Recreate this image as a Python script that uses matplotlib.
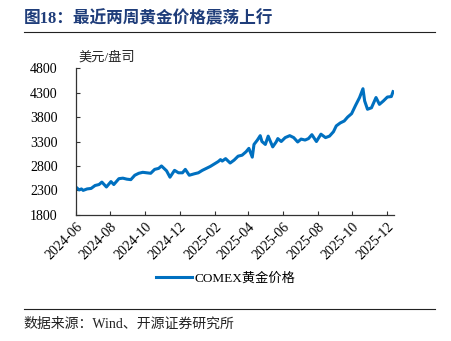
import numpy as np
import pandas as pd
import matplotlib
matplotlib.use('Agg')
import matplotlib.pyplot as plt
from matplotlib.lines import Line2D

plt.rcParams['font.family'] = ['Liberation Serif', 'Noto Sans CJK SC']
plt.rcParams['axes.unicode_minus'] = False

# COMEX gold price (USD/oz)
dates = ['2024-06-03', '2024-06-07', '2024-06-11', '2024-06-14', '2024-06-21', '2024-06-28',
         '2024-07-05', '2024-07-12', '2024-07-17', '2024-07-25', '2024-08-02',
         '2024-08-07', '2024-08-16', '2024-08-23', '2024-08-30', '2024-09-06',
         '2024-09-13', '2024-09-20', '2024-09-27', '2024-10-04', '2024-10-11',
         '2024-10-18', '2024-10-25', '2024-10-30', '2024-11-08', '2024-11-14',
         '2024-11-22', '2024-11-29', '2024-12-06', '2024-12-11', '2024-12-18',
         '2024-12-27', '2025-01-03', '2025-01-10', '2025-01-17', '2025-01-24',
         '2025-01-31', '2025-02-07', '2025-02-11', '2025-02-14', '2025-02-20', '2025-02-28',
         '2025-03-07', '2025-03-14', '2025-03-21', '2025-03-28', '2025-04-02',
         '2025-04-08', '2025-04-11', '2025-04-17', '2025-04-22', '2025-04-25',
         '2025-05-01', '2025-05-06', '2025-05-14', '2025-05-20', '2025-05-23',
         '2025-05-29', '2025-06-05', '2025-06-13', '2025-06-20', '2025-06-27',
         '2025-07-03', '2025-07-10', '2025-07-16', '2025-07-22', '2025-07-30', '2025-08-07',
         '2025-08-15', '2025-08-22', '2025-08-29', '2025-09-03', '2025-09-10',
         '2025-09-17', '2025-09-23', '2025-09-30', '2025-10-07', '2025-10-14',
         '2025-10-20', '2025-10-23', '2025-10-28', '2025-11-04', '2025-11-12',
         '2025-11-18', '2025-11-25', '2025-12-02', '2025-12-09', '2025-12-12']
prices = [2350, 2310, 2330, 2300, 2330, 2340,
          2400, 2420, 2470, 2370, 2480,
          2420, 2540, 2550, 2530, 2520,
          2610, 2650, 2670, 2660, 2650,
          2730, 2750, 2800, 2700, 2570,
          2710, 2660, 2660, 2730, 2610,
          2640, 2660, 2710, 2750, 2790,
          2840, 2890, 2930, 2900, 2950, 2860,
          2920, 3000, 3020, 3090, 3160,
          2980, 3240, 3330, 3420, 3300,
          3240, 3410, 3190, 3290, 3360,
          3300, 3380, 3420, 3380, 3290,
          3350, 3330, 3360, 3440, 3300, 3450,
          3380, 3410, 3500, 3620, 3680,
          3720, 3800, 3870, 4040, 4200,
          4380, 4130, 3960, 3990, 4200,
          4060, 4130, 4210, 4220, 4320]

xtick_labels = ['2024-06', '2024-08', '2024-10', '2024-12', '2025-02',
                '2025-04', '2025-06', '2025-08', '2025-10', '2025-12']
yticks = [1800, 2300, 2800, 3300, 3800, 4300, 4800]

x = pd.to_datetime(dates)
tick_pos = pd.to_datetime([t + '-01' for t in xtick_labels])

fig = plt.figure(figsize=(4.51, 3.41), dpi=100)
ax = fig.add_axes([0.168, 0.37, 0.706, 0.43])

line_color = '#0070C0'
ax.plot(x, prices, color=line_color, linewidth=2.2)

ax.set_xlim(pd.Timestamp('2024-06-01'), pd.Timestamp('2025-12-14'))
ax.set_ylim(1800, 4800)
ax.set_yticks(yticks)
ax.set_xticks(tick_pos)
ax.set_xticklabels(xtick_labels, rotation=45, ha='right', rotation_mode='anchor')
ax.tick_params(axis='both', direction='in', labelsize=10, length=3, color='#333333')
ax.tick_params(axis='x', pad=4)
ax.tick_params(axis='y', pad=13)
for s in ['top', 'right']:
    ax.spines[s].set_visible(False)
for s in ['left', 'bottom']:
    ax.spines[s].set_color('#333333')
    ax.spines[s].set_linewidth(0.9)

ax.text(0.01, 1.03, '美元/盘司', transform=ax.transAxes, fontsize=9.5,
        ha='left', va='bottom', color='#222222')

handle = Line2D([0], [0], color=line_color, linewidth=2.2)
fig.legend([handle], ['COMEX黄金价格'], loc='center', bbox_to_anchor=(0.5, 0.183),
           frameon=False, fontsize=9.5, handlelength=2.7, handletextpad=0.2)

# title and rules
fig.text(0.053, 0.945, '图18：最近两周黄金价格震荡上行', fontsize=12, fontweight='bold',
         color='#1F3D7A', ha='left', va='center')
fig.add_artist(Line2D([0.053, 0.965], [0.907, 0.907], color='#222222', linewidth=0.8))
fig.add_artist(Line2D([0.053, 0.965], [0.093, 0.093], color='#222222', linewidth=0.8))
fig.text(0.053, 0.048, '数据来源：Wind、开源证券研究所', fontsize=10,
         color='#222222', ha='left', va='center')

fig.savefig('out.png', dpi=100)
